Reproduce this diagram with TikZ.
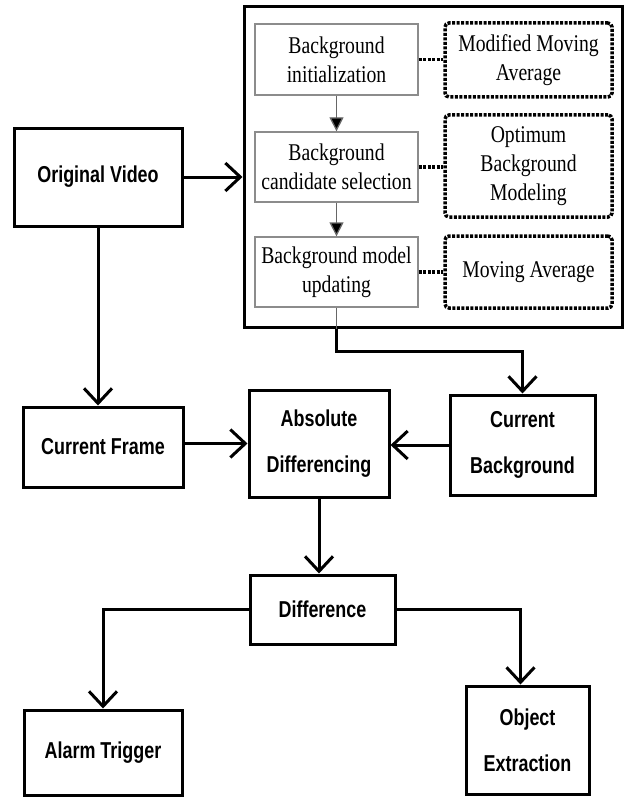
\documentclass[tikz,border=0pt]{standalone}
\usepackage{fontspec}
\newfontfamily\narrowsans[FakeStretch=0.78]{Liberation Sans}
\newfontfamily\narrowserif[FakeStretch=0.82]{Liberation Serif}
\usetikzlibrary{arrows.meta}
\newcommand{\mainlabel}{\narrowsans\bfseries\fontsize{23}{46}\selectfont}
\newcommand{\stagelabel}{\narrowserif\fontsize{24}{29}\selectfont}

\begin{document}
\begin{tikzpicture}[x=1pt, y=-1pt,
mainnode/.style={rectangle, draw=black, line width=3pt, inner sep=0pt, align=center, font=\mainlabel},
stagenode/.style={rectangle, draw=black!45, line width=1.3pt, inner sep=0pt, align=center, font=\stagelabel, minimum width=163pt},
methodnode/.style={rectangle, draw=black, line width=3.5pt, dash pattern=on 3pt off 1.5pt, rounded corners=4pt, inner sep=0pt, align=center, font=\stagelabel, minimum width=167pt},
arr/.style={line width=3pt, -{Straight Barb[length=15pt, width=28pt]}},
stagearr/.style={line width=1.3pt, draw=black!60, -{Triangle[length=14pt, width=14pt, fill=black]}},
dots/.style={line width=3.5pt, dash pattern=on 3pt off 1.5pt},
]
\useasboundingbox (0,0) rectangle (624,797);

%Nodes
\node[mainnode, minimum width=378pt, minimum height=320pt] (bgbox)  at (433,167)   {};
\node[stagenode, minimum height=71pt]  (init)   at (336.5,59.5)  {Background\\initialization};
\node[stagenode, minimum height=70pt]  (cand)   at (336.5,167)   {Background\\candidate selection};
\node[stagenode, minimum height=70pt]  (upd)    at (336.5,272)   {Background model\\updating};
\node[methodnode, minimum height=74pt] (mma)    at (528.5,60)    {Modified Moving\\Average};
\node[methodnode, minimum height=102pt] (obm)   at (528.5,166)   {Optimum\\Background\\Modeling};
\node[methodnode, minimum height=72pt] (ma)     at (528.5,272)   {Moving Average};

\node[mainnode, minimum width=168pt, minimum height=98pt]  (orig)  at (98,177)     {Original Video};
\node[mainnode, minimum width=160pt, minimum height=80pt]  (frame) at (103,447)    {Current Frame};
\node[mainnode, minimum width=140pt, minimum height=107pt] (absd)  at (319,443.5)  {Absolute\\Differencing};
\node[mainnode, minimum width=145pt, minimum height=100pt] (cbg)   at (522.5,445)  {Current\\Background};
\node[mainnode, minimum width=145pt, minimum height=69pt]  (diff)  at (322.5,609.5) {Difference};
\node[mainnode, minimum width=158pt, minimum height=85pt]  (alarm) at (103,752.5)  {Alarm Trigger};
\node[mainnode, minimum width=123pt, minimum height=108pt] (objx)  at (527.5,740)  {Object\\Extraction};

%Lines
\draw[stagearr] (init.south) -- (cand.north);
\draw[stagearr] (cand.south) -- (upd.north);
\draw[dots] (init.east) -- (init.east -| mma.west);
\draw[dots] (cand.east) -- (cand.east -| obm.west);
\draw[dots] (upd.east) -- (upd.east -| ma.west);

\draw[arr] (orig.east) -- (orig.east -| bgbox.west);
\draw[arr] (orig.south) -- (orig.south |- frame.north);
\draw[line width=1.3pt, black!60] (upd.south) -- (upd.south |- bgbox.south);
\draw[arr] (upd.south |- bgbox.south) -- ++(0,23) -| (cbg.north);
\draw[arr] (absd.west -| frame.east) -- (absd.west);
\draw[arr] (cbg.west) -- (cbg.west -| absd.east);
\draw[arr] (absd.south) -- (absd.south |- diff.north);
\draw[arr] (diff.west) -| (alarm.north);
\draw[arr] (diff.east) -| ([xshift=-7pt]objx.north);
\end{tikzpicture}
\end{document}
